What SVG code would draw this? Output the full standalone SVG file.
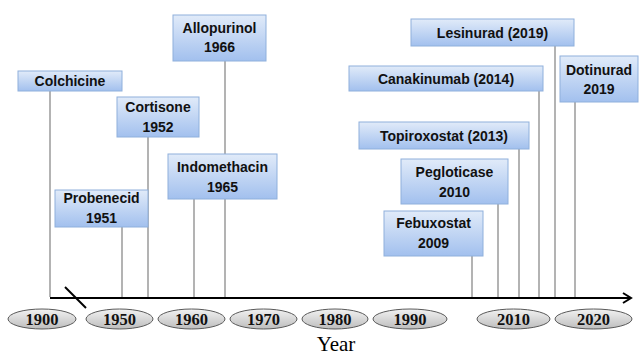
<svg xmlns="http://www.w3.org/2000/svg" width="639" height="356" viewBox="0 0 639 356">
<defs>
<linearGradient id="boxg" x1="0" y1="0" x2="0" y2="1">
<stop offset="0" stop-color="#e1ebf9"/>
<stop offset="1" stop-color="#a2c0ee"/>
</linearGradient>
<linearGradient id="ellg" x1="0" y1="0" x2="0" y2="1">
<stop offset="0" stop-color="#f2f2f2"/>
<stop offset="1" stop-color="#bdbdbd"/>
</linearGradient>
<marker id="arr" markerWidth="12" markerHeight="12" refX="9" refY="6" orient="auto" markerUnits="userSpaceOnUse">
<path d="M1,1 L9,6 L1,11" fill="none" stroke="#000" stroke-width="2"/>
</marker>
</defs>
<style>
.box{fill:url(#boxg);stroke:#8fb0dc;stroke-width:1}
.lbl{font-family:"Liberation Sans",Arial,sans-serif;font-weight:bold;font-size:14px;fill:#111;text-anchor:middle}
.conn{stroke:#808080;stroke-width:1.2;fill:none}
.ell{fill:url(#ellg);stroke:#595959;stroke-width:1}
.yr{font-family:"Liberation Serif","Times New Roman",serif;font-weight:bold;font-size:16.5px;fill:#111;text-anchor:middle}
.axis{font-family:"Liberation Serif","Times New Roman",serif;font-size:21px;fill:#000;text-anchor:middle}
</style>
<rect width="639" height="356" fill="#fff"/>
<g id="connectors">
<line class="conn" x1="50" y1="91" x2="50" y2="297"/>
<line class="conn" x1="122" y1="227" x2="122" y2="297"/>
<line class="conn" x1="148" y1="137" x2="148" y2="297"/>
<line class="conn" x1="225" y1="61" x2="225" y2="297"/>
<line class="conn" x1="194" y1="199" x2="194" y2="297"/>
<line class="conn" x1="472" y1="256" x2="472" y2="297"/>
<line class="conn" x1="498" y1="204" x2="498" y2="297"/>
<line class="conn" x1="519" y1="149" x2="519" y2="297"/>
<line class="conn" x1="539" y1="91" x2="539" y2="297"/>
<line class="conn" x1="555" y1="46" x2="555" y2="297"/>
<line class="conn" x1="575" y1="102" x2="575" y2="297"/>
<line x1="50" y1="298" x2="631" y2="298" stroke="#000" stroke-width="2" marker-end="url(#arr)"/>
<line x1="65" y1="287" x2="86" y2="308" stroke="#000" stroke-width="2"/>
</g>
<g id="colchicine"><rect class="box" x="18" y="71" width="104" height="20"/><text class="lbl" x="70" y="86">Colchicine</text></g>
<g id="probenecid"><rect class="box" x="55" y="190" width="93" height="37"/><text class="lbl" x="101.5" y="203">Probenecid</text><text class="lbl" x="101.5" y="223">1951</text></g>
<g id="cortisone"><rect class="box" x="117" y="97" width="82" height="40"/><text class="lbl" x="158" y="112">Cortisone</text><text class="lbl" x="158" y="132">1952</text></g>
<g id="allopurinol"><rect class="box" x="173" y="15" width="93" height="46"/><text class="lbl" x="219.5" y="33">Allopurinol</text><text class="lbl" x="219.5" y="52">1966</text></g>
<g id="indomethacin"><rect class="box" x="168" y="154" width="109" height="45"/><text class="lbl" x="222.5" y="172">Indomethacin</text><text class="lbl" x="222.5" y="192">1965</text></g>
<g id="febuxostat"><rect class="box" x="384" y="211" width="99" height="45"/><text class="lbl" x="433.5" y="228">Febuxostat</text><text class="lbl" x="433.5" y="248">2009</text></g>
<g id="pegloticase"><rect class="box" x="401" y="159" width="107" height="45"/><text class="lbl" x="454.5" y="177">Pegloticase</text><text class="lbl" x="454.5" y="197">2010</text></g>
<g id="topiroxostat"><rect class="box" x="359" y="122" width="170" height="27"/><text class="lbl" x="444" y="141">Topiroxostat (2013)</text></g>
<g id="canakinumab"><rect class="box" x="349" y="66" width="194" height="25"/><text class="lbl" x="446" y="84">Canakinumab (2014)</text></g>
<g id="lesinurad"><rect class="box" x="411" y="19" width="163" height="27"/><text class="lbl" x="492.5" y="38">Lesinurad (2019)</text></g>
<g id="dotinurad"><rect class="box" x="560" y="56" width="78" height="46"/><text class="lbl" x="599" y="75">Dotinurad</text><text class="lbl" x="599" y="94">2019</text></g>
<g id="years">
<ellipse class="ell" cx="42" cy="319" rx="34" ry="10"/><text class="yr" x="42" y="325">1900</text>
<ellipse class="ell" cx="119.5" cy="319" rx="33.5" ry="10"/><text class="yr" x="119.5" y="325">1950</text>
<ellipse class="ell" cx="191.5" cy="319" rx="33.5" ry="10"/><text class="yr" x="191.5" y="325">1960</text>
<ellipse class="ell" cx="263.5" cy="319" rx="33.5" ry="10"/><text class="yr" x="263.5" y="325">1970</text>
<ellipse class="ell" cx="335" cy="319" rx="33" ry="10"/><text class="yr" x="335" y="325">1980</text>
<ellipse class="ell" cx="410" cy="319" rx="37" ry="10"/><text class="yr" x="410" y="325">1990</text>
<ellipse class="ell" cx="513.5" cy="319" rx="36.5" ry="10"/><text class="yr" x="513.5" y="325">2010</text>
<ellipse class="ell" cx="593.5" cy="319" rx="38.5" ry="10"/><text class="yr" x="593.5" y="325">2020</text>
</g>
<text class="axis" x="336" y="351">Year</text>
</svg>
